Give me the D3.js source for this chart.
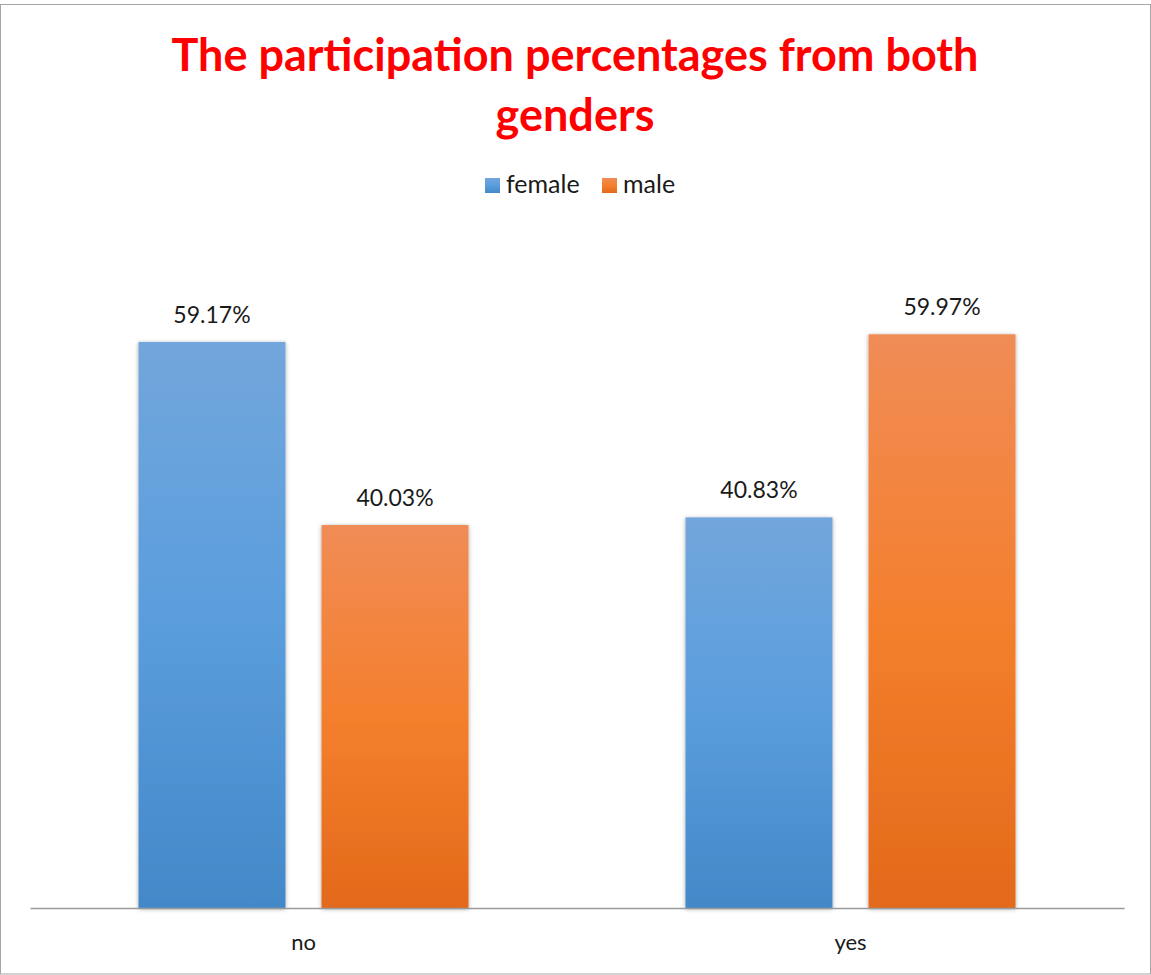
<!DOCTYPE html>
<html><head><meta charset="utf-8">
<script src="https://cdn.jsdelivr.net/npm/d3@7"></script>
<style>body{margin:0;background:#fff;} svg{display:block;}</style>
</head><body>
<svg id="chart" width="1151" height="975"></svg>
<script>
const categories = ["no", "yes"];
const seriesNames = ["female", "male"];
const female = [59.17, 40.83];
const male = [40.03, 59.97];
const valueLabels = [["59.17%", "40.03%"], ["40.83%", "59.97%"]];
const titleLines = ["The participation percentages from both", "genders"];

const svg = d3.select("#chart");
const font = "Lato, 'Open Sans', sans-serif";

svg.append("rect").attr("x", 0.5).attr("y", 4.5).attr("width", 1150).attr("height", 969.5)
  .attr("fill", "#fff").attr("stroke", "#a6a6a6").attr("stroke-width", 1);

const defs = svg.append("defs");
const gradColors = {female: ["#72a6dc", "#5a9ddd", "#4388c8"], male: ["#f08c56", "#f47f2d", "#e3691a"]};
seriesNames.forEach(s => {
  const g = defs.append("linearGradient").attr("id", "g-" + s).attr("x1", 0).attr("y1", 0).attr("x2", 0).attr("y2", 1);
  g.append("stop").attr("offset", "0%").attr("stop-color", gradColors[s][0]);
  g.append("stop").attr("offset", "50%").attr("stop-color", gradColors[s][1]);
  g.append("stop").attr("offset", "100%").attr("stop-color", gradColors[s][2]);
});
const f = defs.append("filter").attr("id", "shadow").attr("x", "-10%").attr("y", "-10%").attr("width", "120%").attr("height", "120%");
f.append("feDropShadow").attr("dx", 0).attr("dy", 1).attr("stdDeviation", 2).attr("flood-color", "#000").attr("flood-opacity", 0.35);

const x0 = d3.scaleBand().domain(categories).range([30, 1124]).paddingInner(0).paddingOuter(0);
const x1 = d3.scaleBand().domain(seriesNames).range([108.5, 438.5]).paddingInner(0.197).paddingOuter(0);
const y = d3.scaleLinear().domain([0, 70]).range([908, 908 - 70 * 9.567]);

// title
svg.append("text").attr("font-family", font).attr("font-weight", "bold")
  .attr("font-size", 45).attr("fill", "#ff0000").attr("text-anchor", "middle")
  .selectAll("tspan").data(titleLines).join("tspan")
  .attr("x", 575).attr("y", (d, i) => 71 + i * 60).text(d => d);

// legend
const legend = svg.append("g");
const legItems = [{name: "female", x: 485}, {name: "male", x: 602}];
legItems.forEach(it => {
  legend.append("rect").attr("x", it.x).attr("y", 178).attr("width", 15).attr("height", 15).attr("fill", "url(#g-" + it.name + ")");
  legend.append("text").attr("x", it.x + 21).attr("y", 193).attr("font-family", font).attr("font-size", 25)
    .attr("fill", "#1a1a1a").text(it.name);
});

const data = categories.map((c, i) => ({cat: c, vals: [{s: "female", v: female[i], l: valueLabels[i][0]}, {s: "male", v: male[i], l: valueLabels[i][1]}]}));

const groups = svg.append("g").selectAll("g").data(data).join("g")
  .attr("transform", d => `translate(${x0(d.cat)},0)`);
groups.selectAll("rect").data(d => d.vals).join("rect")
  .attr("x", d => x1(d.s)).attr("width", x1.bandwidth())
  .attr("y", d => y(d.v)).attr("height", d => y(0) - y(d.v))
  .attr("fill", d => "url(#g-" + d.s + ")").attr("filter", "url(#shadow)");
groups.selectAll("text").data(d => d.vals).join("text")
  .attr("x", d => x1(d.s) + x1.bandwidth() / 2).attr("y", d => y(d.v) - 19)
  .attr("text-anchor", "middle").attr("font-family", font).attr("font-size", 23).attr("fill", "#1a1a1a")
  .text(d => d.l);

// axis
const axis = d3.axisBottom(x0).tickSize(0).tickPadding(26);
const ag = svg.append("g").attr("transform", `translate(0,${y(0)})`).call(axis);
ag.select(".domain").attr("stroke", "#9a9a9a").attr("stroke-width", 1.5);
ag.selectAll(".tick text").attr("font-family", font).attr("font-size", 22).attr("fill", "#1a1a1a");
</script>
</body></html>
